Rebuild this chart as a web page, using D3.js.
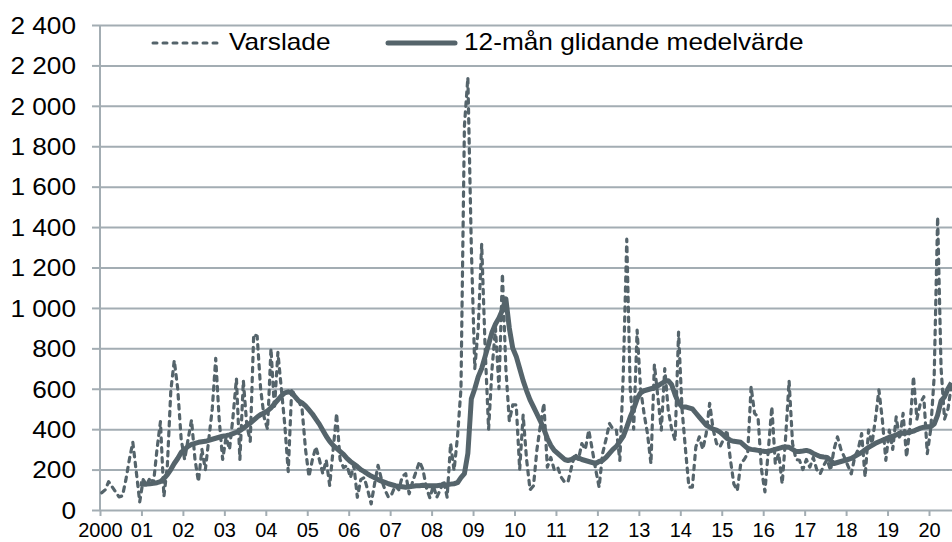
<!DOCTYPE html>
<html><head><meta charset="utf-8">
<script src="https://cdn.jsdelivr.net/npm/d3@7"></script>
<style>body{margin:0;background:#fff}svg{display:block}</style></head><body>
<svg id="c" width="952" height="542"></svg>
<script>
// Monthly values, Jan 2000 .. Jul 2020
const varslade = [
 85,100,140,115,90,65,70,150,250,335,190,40,          // 2000
 150,125,160,135,300,437,66,220,590,740,600,350,      // 2001
 250,350,445,250,140,300,200,350,500,750,450,250,     // 2002
 360,300,460,650,250,640,420,340,870,860,600,460,     // 2003
 400,800,500,780,600,420,190,600,560,540,500,300,     // 2004
 165,250,312,250,180,246,121,300,478,250,210,220,     // 2005
 160,220,63,150,160,100,30,130,221,150,100,63,        // 2006
 80,120,100,165,180,80,140,190,240,200,110,60,        // 2007
 120,63,100,146,63,329,196,362,600,1900,2140,1300,    // 2008
 700,900,1316,800,400,700,900,600,1170,700,440,520,   // 2009
 520,200,470,250,100,120,300,420,528,212,260,200,     // 2010
 212,163,138,140,212,279,250,329,300,395,300,200,     // 2011
 113,279,350,428,400,395,245,677,1340,600,400,890,    // 2012
 600,478,378,229,720,561,395,700,495,400,345,880,     // 2013
 500,300,113,113,312,362,300,378,528,400,329,312,     // 2014
 350,395,250,129,96,229,250,279,611,478,461,200,      // 2015
 90,300,511,229,279,129,362,639,329,250,246,200,      // 2016
 250,212,260,200,179,220,250,196,300,362,300,262,     // 2017
 220,179,262,300,378,163,395,329,450,594,445,246,     // 2018
 395,300,461,350,478,262,412,660,450,528,561,279,     // 2019
 400,660,1450,700,450,500,620                         // 2020
];
// 12-month moving average, starts Dec 2000
const glidandeStart = 11;
const glidande = [
 130,
 128,128,130,132,135,140,155,175,200,230,255,285,
 300,315,325,330,335,338,340,345,350,355,360,365,
 368,372,378,385,393,405,418,430,445,460,472,480,
 490,505,525,545,565,580,585,580,560,540,530,515,
 495,475,450,425,395,365,340,320,305,290,275,255,
 240,228,215,200,190,178,168,160,150,143,137,130,
 125,120,117,115,113,115,117,120,120,122,120,120,
 120,120,122,122,125,128,130,135,160,180,280,550,
 600,660,700,760,820,880,920,950,990,1045,900,800,
 760,700,640,590,545,510,475,440,400,355,320,295,
 280,265,250,245,250,260,258,250,245,240,235,230,
 240,245,260,280,300,315,340,365,410,460,500,550,
 580,590,595,600,605,615,625,635,640,620,570,530,
 510,510,505,500,480,460,440,420,410,400,395,385,
 370,355,345,340,338,335,320,305,300,298,295,292,
 290,290,295,300,305,310,312,310,300,290,290,292,
 295,290,280,272,265,262,260,245,230,235,240,245,
 250,255,265,275,285,298,310,320,330,338,345,352,
 360,365,372,378,380,382,385,390,398,405,410,412,
 412,425,470,540,560,600,630
];
const yTicks = [0,200,400,600,800,1000,1200,1400,1600,1800,2000,2200,2400];
const xLabels = ["2000","01","02","03","04","05","06","07","08","09","10","11","12","13","14","15","16","17","18","19","20"];
const seriesNames = ["Varslade","12-mån glidande medelvärde"];

const W = 952, H = 542;
const col = "#55646b", gridCol = "#a3adb3";
const font = "'Liberation Sans', Arial, sans-serif";
const svg = d3.select("#c");

const x = d3.scaleLinear().domain([0, 240]).range([100, 929]);
const y = d3.scaleLinear().domain([0, 2400]).range([510, 25]);
const loc = d3.formatLocale({decimal: ",", thousands: "\u00a0", grouping: [3], currency: ["", ""]});
const fmt = loc.format(",");

// gridlines
const grid = svg.append("g").attr("transform", "translate(100,0)")
  .call(d3.axisLeft(y).tickValues(yTicks).tickSize(-(W - 100)).tickSizeOuter(0).tickFormat(""));
grid.select(".domain").remove();
grid.selectAll("line").attr("stroke", gridCol).attr("stroke-width", 2);

// y axis (ticks + labels)
const ya = svg.append("g").attr("transform", "translate(100,0)")
  .call(d3.axisLeft(y).tickValues(yTicks).tickSize(8).tickSizeOuter(0).tickFormat(fmt));
ya.select(".domain").attr("stroke", gridCol).attr("stroke-width", 2).attr("d", `M0,${y(2400)}V${y(0)}`);
ya.selectAll("line").attr("stroke", gridCol).attr("stroke-width", 2);
ya.selectAll("text").attr("x", 0).attr("dy", null).attr("text-anchor", "end")
  .attr("transform", "translate(-24,8.3) scale(1.14,1)")
  .attr("fill", "#000").style("font-family", font).style("font-size", "23px");

// x axis
const xa = svg.append("g").attr("transform", `translate(0,${y(0)})`)
  .call(d3.axisBottom(x).tickValues(d3.range(0, 241, 12)).tickSize(6).tickSizeOuter(0)
    .tickFormat((d, i) => xLabels[i]));
xa.select(".domain").remove();
xa.selectAll("line").attr("stroke", gridCol).attr("stroke-width", 2);
xa.selectAll("text").attr("y", 27).attr("dy", null).attr("text-anchor", "middle")
  .attr("fill", "#000").style("font-family", font).style("font-size", "20px");

// series
const lineV = d3.line().x((d, i) => x(i + 0.5)).y(d => y(d));
svg.append("path").datum(varslade).attr("d", lineV)
  .attr("fill", "none").attr("stroke", col).attr("stroke-width", 3.2)
  .attr("stroke-dasharray", "4.5,5.5").attr("stroke-linecap", "round").attr("stroke-linejoin", "round");
const lineM = d3.line().x((d, i) => x(i + glidandeStart + 0.5)).y(d => y(d));
svg.append("path").datum(glidande).attr("d", lineM)
  .attr("fill", "none").attr("stroke", col).attr("stroke-width", 5).attr("stroke-linejoin", "round");

// legend
const lg = svg.append("g");
lg.append("line").attr("x1", 153).attr("x2", 220).attr("y1", 43).attr("y2", 43)
  .attr("stroke", col).attr("stroke-width", 3).attr("stroke-dasharray", "4,6").attr("stroke-linecap", "round");
lg.append("text").text(seriesNames[0]).attr("transform", "translate(229,49.5) scale(1.14,1)")
  .style("font-family", font).style("font-size", "23px");
lg.append("line").attr("x1", 388).attr("x2", 455).attr("y1", 43).attr("y2", 43)
  .attr("stroke", col).attr("stroke-width", 5).attr("stroke-linecap", "round");
lg.append("text").text(seriesNames[1]).attr("transform", "translate(464,49.5) scale(1.14,1)")
  .style("font-family", font).style("font-size", "23px");
</script></body></html>
